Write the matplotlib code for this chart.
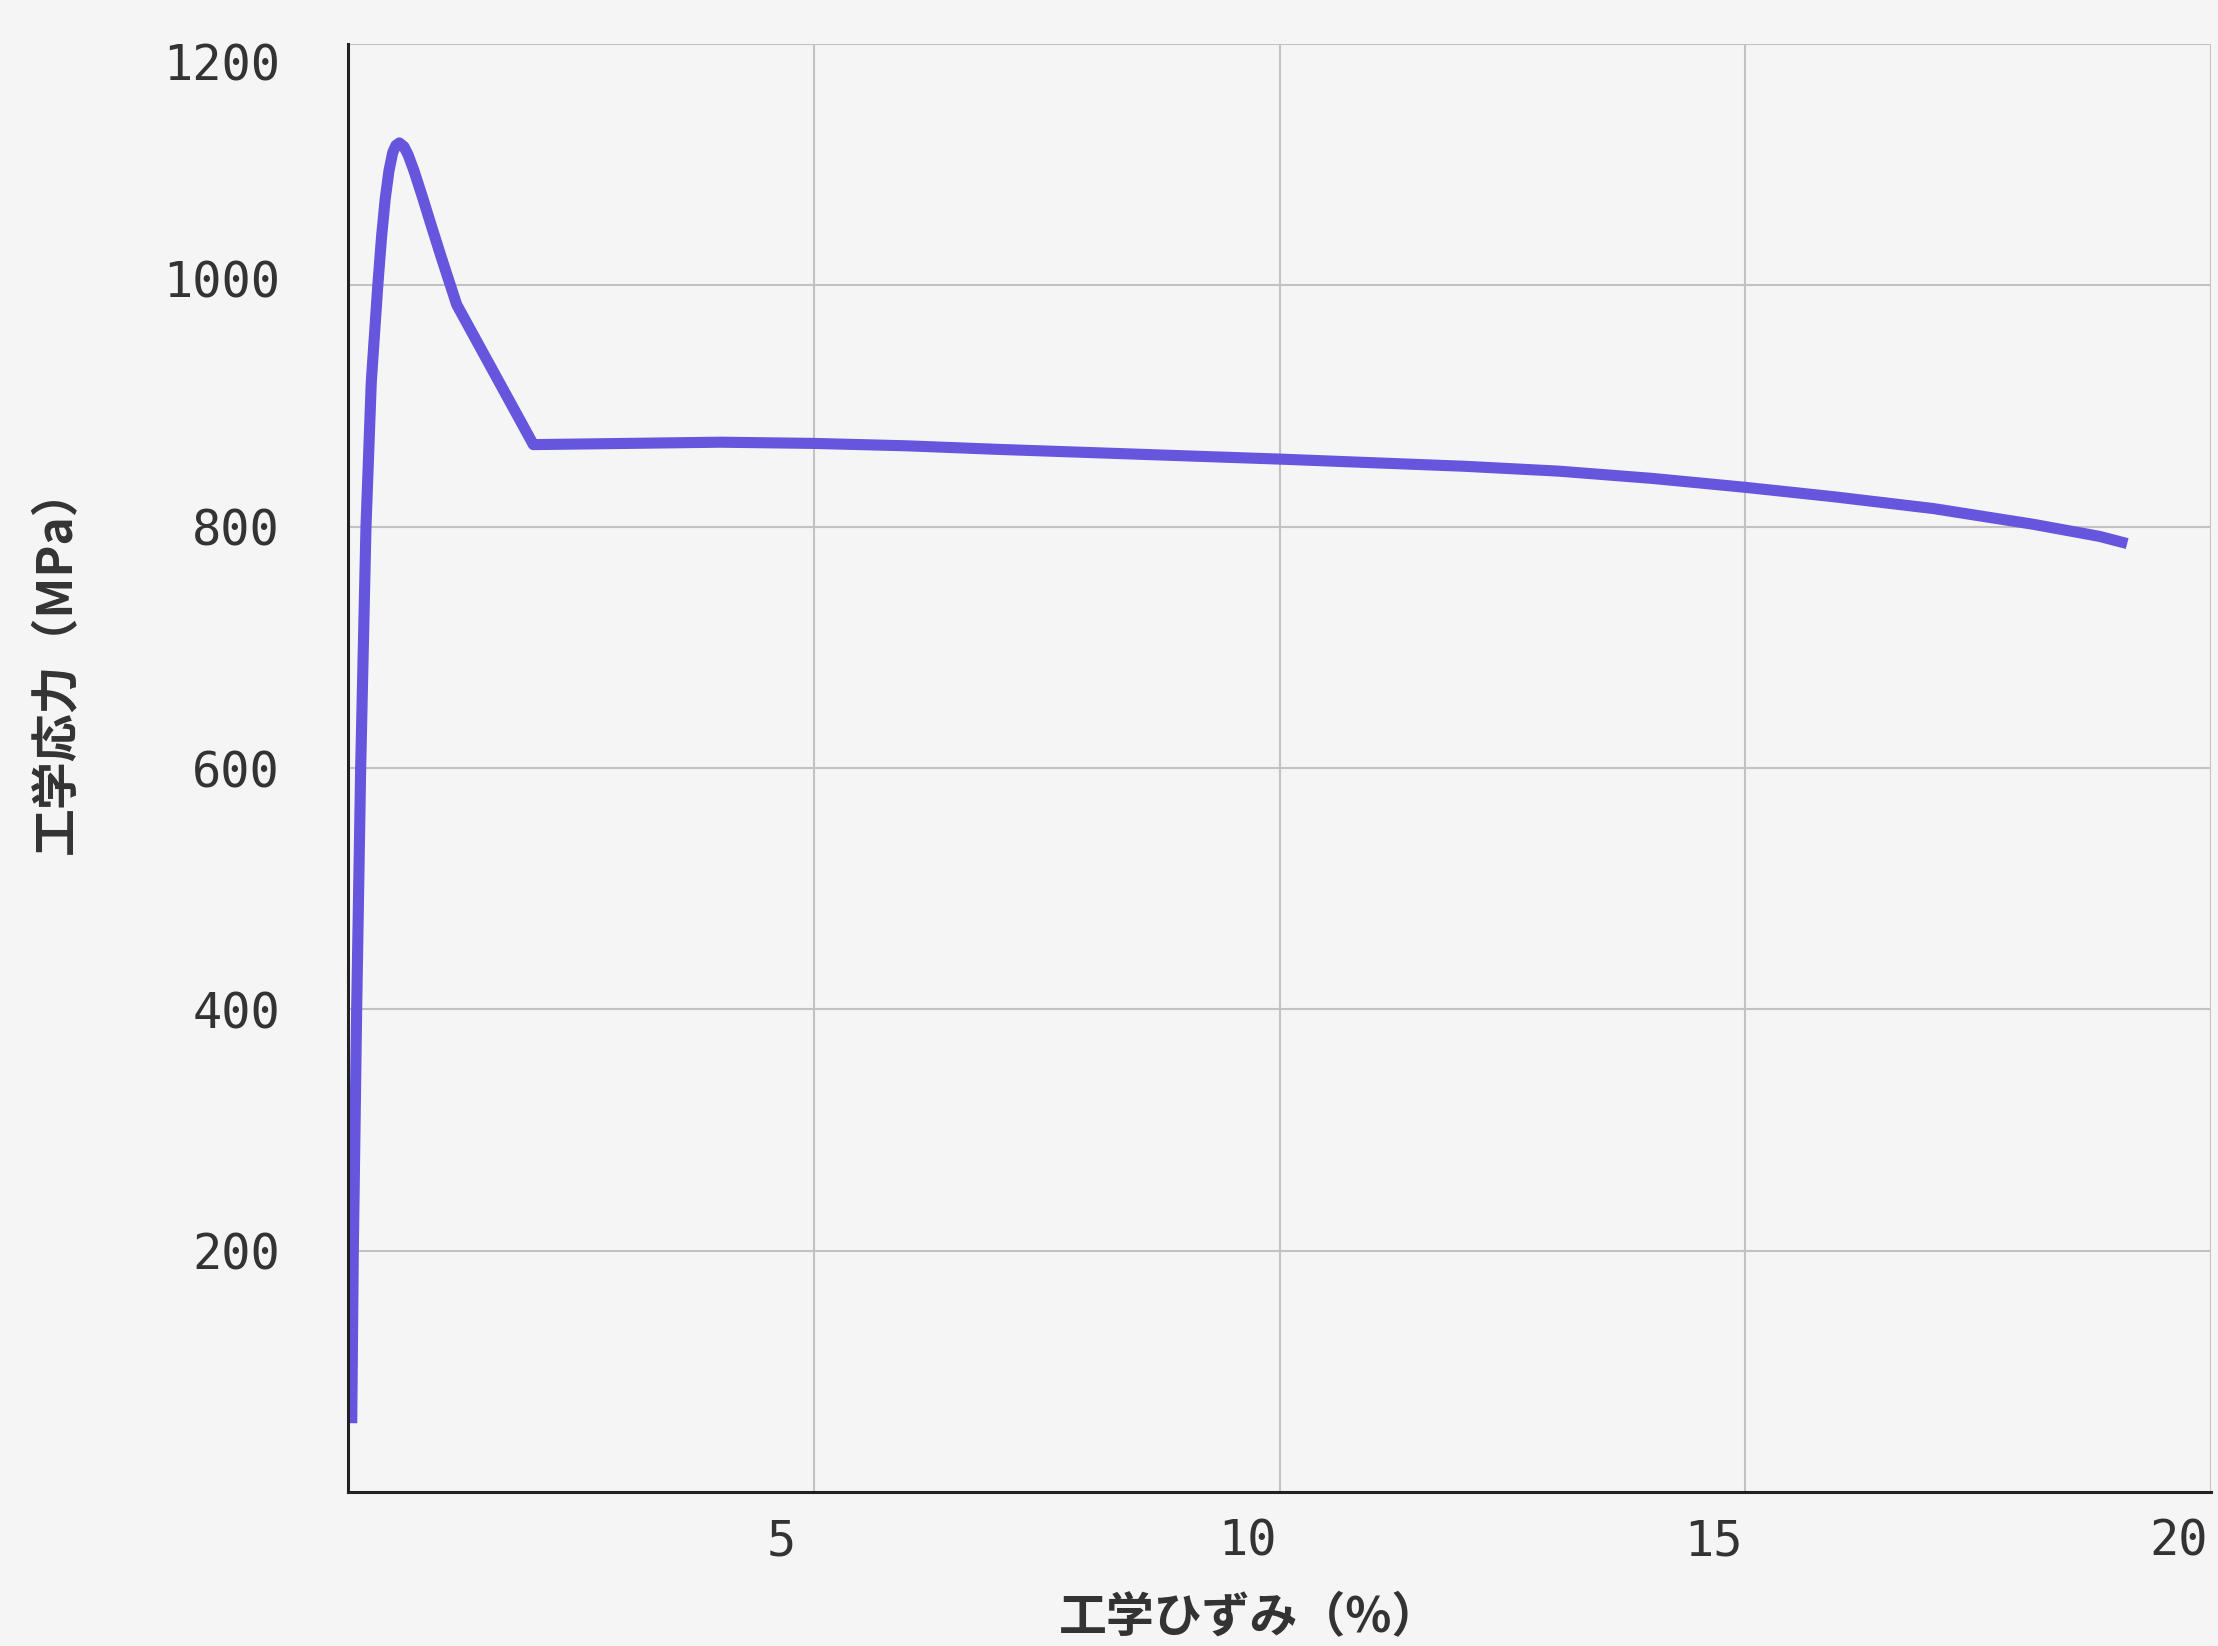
import matplotlib
matplotlib.use("Agg")
import matplotlib.pyplot as plt
from matplotlib.transforms import ScaledTranslation

# ---- data ----
strain = [0.04, 0.057, 0.093, 0.136, 0.193, 0.25, 0.32, 0.36, 0.40, 0.44,
          0.48, 0.515, 0.551, 0.60, 0.646, 0.708, 0.80, 0.88, 0.99, 1.095, 1.167,
          1.99, 3.0, 4.0, 5.0, 6.0, 7.0, 8.5, 10.0, 11.0, 12.0, 13.0, 14.0,
          15.0, 15.95, 17.02, 18.09, 18.8, 19.1]
stress = [57, 200, 400, 600, 800, 920, 1000, 1040, 1072, 1095,
          1110, 1116, 1118, 1115, 1108, 1095, 1073, 1053, 1026, 1001, 984,
          868, 869, 870, 869, 867, 864, 860, 856, 853, 850, 846, 840,
          832.6, 824.8, 815, 802, 792, 786]

x_ticks = [5, 10, 15, 20]
y_ticks = [200, 400, 600, 800, 1000, 1200]
x_label = "工学ひずみ（%）"
y_label = "工学応力（MPa）"

BG = "#f5f5f5"
TXT = "#333333"
LINE = "#6655dd"

fig = plt.figure(figsize=(22.18, 16.46), dpi=100, facecolor=BG)
ax = fig.add_axes([348/2218, 1 - 1492/1646, (2211-348)/2218, (1492-44)/1646])
ax.set_facecolor(BG)

ax.plot(strain, stress, color=LINE, lw=8, solid_capstyle="butt",
        solid_joinstyle="round", zorder=3)

ax.set_xlim(0, 20)
ax.set_ylim(0, 1200)
ax.set_xticks(x_ticks)
ax.set_yticks(y_ticks)
ax.grid(True, color="#c2c2c2", lw=1.5, zorder=0)

for s in ["top", "right"]:
    ax.spines[s].set_visible(False)
for s in ["left", "bottom"]:
    ax.spines[s].set_color("#222222")
    ax.spines[s].set_linewidth(2.2)
    ax.spines[s].set_zorder(4)

ax.tick_params(axis="both", length=0, labelsize=35, labelcolor=TXT)
ax.tick_params(axis="y", pad=49)
ax.tick_params(axis="x", pad=18)
for lab in ax.get_xticklabels() + ax.get_yticklabels():
    lab.set_fontfamily(["DejaVu Sans Mono"])

# shift x tick labels slightly left as in reference
for lab in ax.get_xticklabels():
    lab.set_transform(lab.get_transform() + ScaledTranslation(-0.32, 0, fig.dpi_scale_trans))
ylabs = ax.get_yticklabels()
ylabs[-1].set_transform(ylabs[-1].get_transform() + ScaledTranslation(0, -0.18, fig.dpi_scale_trans))
ylabs[-2].set_transform(ylabs[-2].get_transform() + ScaledTranslation(0, 0.07, fig.dpi_scale_trans))

cjk = ["Noto Sans CJK JP", "DejaVu Sans"]
ax.set_xlabel(x_label, fontsize=34.5, fontweight="bold", color=TXT, family=cjk)
ax.set_ylabel(y_label, fontsize=34.5, fontweight="bold", color=TXT, family=cjk)
ax.xaxis.set_label_coords(0.484, (1492 - 1618) / 1448, transform=ax.transAxes)
ax.yaxis.set_label_coords((57 - 348) / 1863, 0.575, transform=ax.transAxes)
ax.xaxis.label.set_va("center")
ax.yaxis.label.set_va("center")

fig.savefig("out.png", dpi=100, facecolor=BG)
